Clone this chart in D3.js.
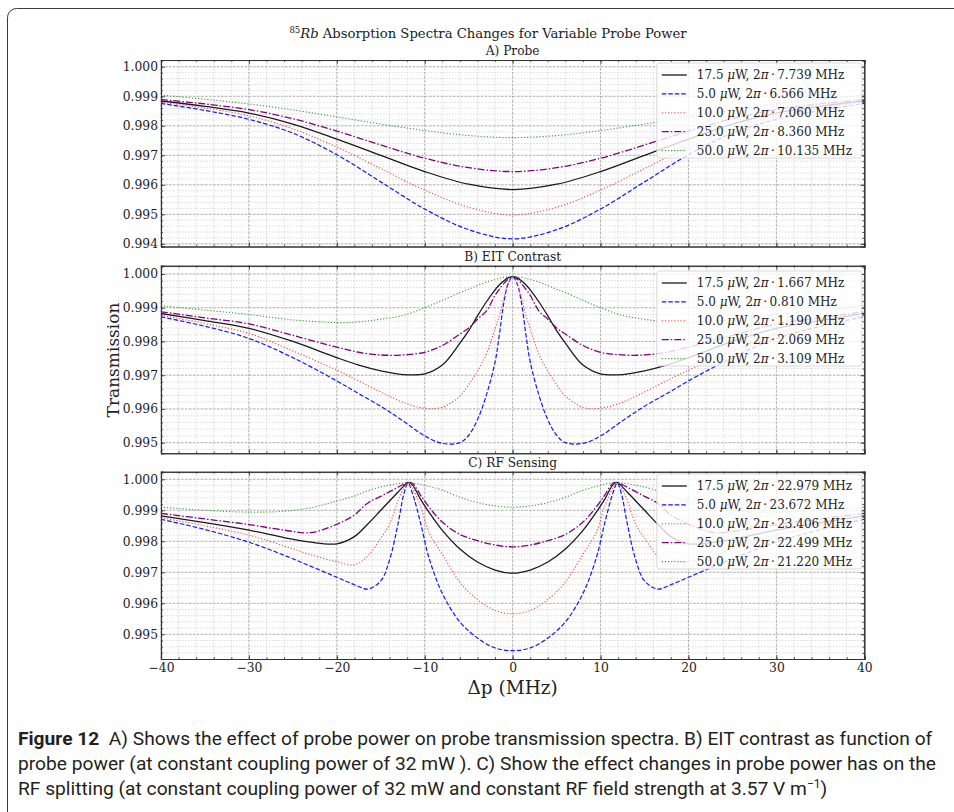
<!DOCTYPE html>
<html>
<head>
<meta charset="utf-8">
<script src="https://cdn.jsdelivr.net/npm/d3@7"></script>
<style>
  body { margin: 0; background: #fff; }
</style>
</head>
<body>
<div id="container"></div>
<script>
// ---- data ----
const powers = ["17.5", "5.0", "10.0", "25.0", "50.0"];
const widthsA = ["7.739", "6.566", "7.060", "8.360", "10.135"];
const widthsB = ["1.667", "0.810", "1.190", "2.069", "3.109"];
const widthsC = ["22.979", "23.672", "23.406", "22.499", "21.220"];

const xTicks = [-40, -30, -20, -10, 0, 10, 20, 30, 40];
const yTicksA = [0.994, 0.995, 0.996, 0.997, 0.998, 0.999, 1.000];
const yTicksB = [0.995, 0.996, 0.997, 0.998, 0.999, 1.000];
const yTicksC = [0.995, 0.996, 0.997, 0.998, 0.999, 1.000];

// A) Probe
const xA = [-40, -35, -30, -25, -20, -15, -10, -5, 0, 5, 10, 15, 20, 25, 30, 35, 40];
const blackA = [0.99884, 0.99866, 0.99843, 0.99806, 0.99755, 0.99700, 0.99645, 0.99602, 0.99584, 0.99602, 0.99645, 0.99700, 0.99755, 0.99806, 0.99843, 0.99866, 0.99884];
const blueA = [0.99876, 0.99852, 0.99822, 0.99775, 0.99702, 0.99610, 0.99518, 0.99448, 0.99417, 0.99448, 0.99518, 0.99610, 0.99702, 0.99775, 0.99822, 0.99852, 0.99876];
const redA = [0.99880, 0.99860, 0.99834, 0.99790, 0.99728, 0.99655, 0.99582, 0.99524, 0.99498, 0.99524, 0.99582, 0.99655, 0.99728, 0.99790, 0.99834, 0.99860, 0.99880];
const purpleA = [0.99889, 0.99874, 0.99855, 0.99824, 0.99782, 0.99735, 0.99690, 0.99658, 0.99645, 0.99658, 0.99690, 0.99735, 0.99782, 0.99824, 0.99855, 0.99874, 0.99889];
const greenA = [0.99904, 0.99890, 0.99874, 0.99854, 0.99830, 0.99806, 0.99784, 0.99767, 0.99760, 0.99767, 0.99784, 0.99806, 0.99830, 0.99854, 0.99874, 0.99890, 0.99904];

// B) EIT Contrast
const xB = [-40, -35, -30, -25, -20, -17.5, -15, -12.5, -10, -8, -6, -5, -4, -3, -2, -1.5, -1, -0.5, 0, 0.5, 1, 1.5, 2, 3, 4, 5, 6, 8, 10, 12.5, 15, 17.5, 20, 25, 30, 35, 40];
const blackB = [0.99883, 0.99862, 0.99839, 0.99800, 0.99752, 0.99730, 0.99713, 0.99702, 0.99704, 0.99730, 0.99795, 0.99832, 0.99876, 0.99917, 0.99953, 0.99968, 0.99980, 0.99989, 0.99992, 0.99989, 0.99980, 0.99968, 0.99953, 0.99917, 0.99876, 0.99832, 0.99795, 0.99730, 0.99704, 0.99702, 0.99713, 0.99730, 0.99752, 0.99800, 0.99839, 0.99862, 0.99883];
const blueB = [0.99873, 0.99845, 0.99809, 0.99752, 0.99683, 0.99645, 0.99608, 0.99565, 0.99520, 0.99498, 0.99500, 0.99522, 0.99568, 0.99640, 0.99739, 0.99822, 0.99915, 0.99972, 0.99992, 0.99972, 0.99915, 0.99822, 0.99739, 0.99640, 0.99568, 0.99522, 0.99500, 0.99498, 0.99520, 0.99565, 0.99608, 0.99645, 0.99683, 0.99752, 0.99809, 0.99845, 0.99873];
const redB = [0.99878, 0.99853, 0.99824, 0.99772, 0.99715, 0.99683, 0.99650, 0.99620, 0.99602, 0.99605, 0.99638, 0.99672, 0.99712, 0.99762, 0.99838, 0.99878, 0.99930, 0.99972, 0.99992, 0.99972, 0.99930, 0.99878, 0.99838, 0.99762, 0.99712, 0.99672, 0.99638, 0.99605, 0.99602, 0.99620, 0.99650, 0.99683, 0.99715, 0.99772, 0.99824, 0.99853, 0.99878];
const purpleB = [0.99888, 0.99870, 0.99852, 0.99818, 0.99783, 0.99768, 0.99760, 0.99760, 0.99768, 0.99788, 0.99822, 0.99840, 0.99866, 0.99890, 0.99937, 0.99955, 0.99972, 0.99985, 0.99992, 0.99985, 0.99972, 0.99955, 0.99937, 0.99890, 0.99866, 0.99840, 0.99822, 0.99788, 0.99768, 0.99760, 0.99760, 0.99768, 0.99783, 0.99818, 0.99852, 0.99870, 0.99888];
const greenB = [0.99906, 0.99893, 0.99880, 0.99864, 0.99856, 0.99858, 0.99866, 0.99877, 0.99900, 0.99922, 0.99945, 0.99955, 0.99966, 0.99976, 0.99984, 0.99987, 0.99990, 0.99991, 0.99992, 0.99991, 0.99990, 0.99987, 0.99984, 0.99976, 0.99966, 0.99955, 0.99945, 0.99922, 0.99900, 0.99877, 0.99866, 0.99858, 0.99856, 0.99864, 0.99880, 0.99893, 0.99906];

// C) RF Sensing
const xC = [-40, -35, -30, -26, -23, -20, -18, -16.5, -15, -14, -13, -12.4, -11.9, -11.4, -10.5, -9.5, -8, -6, -4, -2, 0, 2, 4, 6, 8, 9.5, 10.5, 11.4, 11.9, 12.4, 13, 14, 15, 16.5, 18, 20, 23, 26, 30, 35, 40];
const blackC = [0.99882, 0.99860, 0.99836, 0.99812, 0.99797, 0.99792, 0.99815, 0.99855, 0.99900, 0.99930, 0.99960, 0.99978, 0.99990, 0.99982, 0.99937, 0.99893, 0.99835, 0.99775, 0.99733, 0.99707, 0.99697, 0.99707, 0.99733, 0.99775, 0.99835, 0.99893, 0.99937, 0.99982, 0.99990, 0.99978, 0.99960, 0.99930, 0.99900, 0.99855, 0.99815, 0.99792, 0.99797, 0.99812, 0.99836, 0.99860, 0.99882];
const blueC = [0.99871, 0.99838, 0.99797, 0.99755, 0.99720, 0.99684, 0.99660, 0.99646, 0.99672, 0.99740, 0.99862, 0.99950, 0.99988, 0.99955, 0.99862, 0.99745, 0.99632, 0.99540, 0.99488, 0.99456, 0.99447, 0.99456, 0.99488, 0.99540, 0.99632, 0.99745, 0.99862, 0.99955, 0.99988, 0.99950, 0.99862, 0.99740, 0.99672, 0.99646, 0.99660, 0.99684, 0.99720, 0.99755, 0.99797, 0.99838, 0.99871];
const redC = [0.99876, 0.99850, 0.99820, 0.99785, 0.99757, 0.99734, 0.99724, 0.99752, 0.99810, 0.99855, 0.99935, 0.99970, 0.99989, 0.99972, 0.99915, 0.99828, 0.99758, 0.99668, 0.99612, 0.99577, 0.99566, 0.99577, 0.99612, 0.99668, 0.99758, 0.99828, 0.99915, 0.99972, 0.99989, 0.99970, 0.99935, 0.99855, 0.99810, 0.99752, 0.99724, 0.99734, 0.99757, 0.99785, 0.99820, 0.99850, 0.99876];
const purpleC = [0.99890, 0.99872, 0.99854, 0.99836, 0.99828, 0.99855, 0.99885, 0.99923, 0.99945, 0.99960, 0.99975, 0.99984, 0.99990, 0.99987, 0.99950, 0.99910, 0.99862, 0.99822, 0.99802, 0.99788, 0.99782, 0.99788, 0.99802, 0.99822, 0.99862, 0.99910, 0.99950, 0.99987, 0.99990, 0.99984, 0.99975, 0.99960, 0.99945, 0.99923, 0.99885, 0.99855, 0.99828, 0.99836, 0.99854, 0.99872, 0.99890];
const greenC = [0.99910, 0.99900, 0.99894, 0.99897, 0.99908, 0.99930, 0.99946, 0.99963, 0.99975, 0.99981, 0.99986, 0.99988, 0.99989, 0.99988, 0.99984, 0.99977, 0.99965, 0.99942, 0.99925, 0.99914, 0.99910, 0.99914, 0.99925, 0.99942, 0.99965, 0.99977, 0.99984, 0.99988, 0.99989, 0.99988, 0.99986, 0.99981, 0.99975, 0.99963, 0.99946, 0.99930, 0.99908, 0.99897, 0.99894, 0.99900, 0.99910];

// ---- layout ----
const width = 954, height = 812;
const axLeft = 161, axRight = 864.3;
const serif = "DejaVu Serif";
const sans = "Roboto";

const styles = [
  { color: "#1a1a1a", width: 1.3, dash: null },
  { color: "#1515ff", width: 1.2, dash: "4.5,2" },
  { color: "#f04848", width: 1.1, dash: "1.2,1.9" },
  { color: "#800080", width: 1.3, dash: "7,2,1.5,2" },
  { color: "#3a9e3a", width: 1.1, dash: "1.2,1.9" }
];

const panels = [
  { title: "A) Probe", top: 60, bottom: 246.5, domain: [0.99391, 1.00023], ticks: yTicksA,
    xs: xA, series: [blackA, blueA, redA, purpleA, greenA], widths: widthsA, legendTop: 63 },
  { title: "B) EIT Contrast", top: 265.7, bottom: 453.3, domain: [0.994685, 1.000246], ticks: yTicksB,
    xs: xB, series: [blackB, blueB, redB, purpleB, greenB], widths: widthsB, legendTop: 271 },
  { title: "C) RF Sensing", top: 471.7, bottom: 659, domain: [0.994203, 1.000245], ticks: yTicksC,
    xs: xC, series: [blackC, blueC, redC, purpleC, greenC], widths: widthsC, legendTop: 474 }
];

const svg = d3.select("#container").append("svg")
  .attr("width", width)
  .attr("height", height)
  .attr("font-family", serif);

// page frame
svg.append("rect")
  .attr("x", 7.5).attr("y", 8.5)
  .attr("width", 1000).attr("height", 900)
  .attr("rx", 9)
  .attr("fill", "none")
  .attr("stroke", "#3a3a3a")
  .attr("stroke-width", 1);

const x = d3.scaleLinear().domain([-40, 40]).range([axLeft, axRight]);
const xMinor = d3.range(-40, 40.001, 2);
const fmtX = d => d < 0 ? "\u2212" + Math.abs(d) : String(d);

// suptitle
const title = svg.append("text")
  .attr("x", 488).attr("y", 38)
  .attr("text-anchor", "middle")
  .attr("font-size", 13.2)
  .attr("fill", "#222");
title.append("tspan").attr("font-size", 8.5).attr("dy", -5).text("85");
title.append("tspan").attr("font-style", "italic").attr("dy", 5).text("Rb");
title.append("tspan").text(" Absorption Spectra Changes for Variable Probe Power");

panels.forEach((p, pi) => {
  const y = d3.scaleLinear().domain(p.domain).range([p.bottom, p.top]);
  const g = svg.append("g");
  const lo = p.ticks[0] - 0.001, hi = p.ticks[p.ticks.length - 1] + 0.001;
  const yMinor = d3.range(Math.round(lo * 5000), Math.round(hi * 5000) + 1)
    .map(k => k / 5000)
    .filter(v => v >= p.domain[0] && v <= p.domain[1]);

  // minor grid
  g.selectAll(".vminor").data(xMinor).join("line")
    .attr("x1", d => x(d)).attr("x2", d => x(d))
    .attr("y1", p.top).attr("y2", p.bottom)
    .attr("stroke", "#c4c4c4").attr("stroke-width", 0.6)
    .attr("stroke-dasharray", "1.5,1.5");
  g.selectAll(".hminor").data(yMinor).join("line")
    .attr("x1", axLeft).attr("x2", axRight)
    .attr("y1", d => y(d)).attr("y2", d => y(d))
    .attr("stroke", "#c4c4c4").attr("stroke-width", 0.6)
    .attr("stroke-dasharray", "1.5,1.5");
  // major grid
  g.selectAll(".vmajor").data(xTicks).join("line")
    .attr("x1", d => x(d)).attr("x2", d => x(d))
    .attr("y1", p.top).attr("y2", p.bottom)
    .attr("stroke", "#a0a0a0").attr("stroke-width", 0.75)
    .attr("stroke-dasharray", "2.5,1.5");
  g.selectAll(".hmajor").data(p.ticks).join("line")
    .attr("x1", axLeft).attr("x2", axRight)
    .attr("y1", d => y(d)).attr("y2", d => y(d))
    .attr("stroke", "#a0a0a0").attr("stroke-width", 0.75)
    .attr("stroke-dasharray", "2.5,1.5");

  // curves
  const clipId = "clip" + pi;
  svg.append("clipPath").attr("id", clipId)
    .append("rect")
    .attr("x", axLeft).attr("y", p.top)
    .attr("width", axRight - axLeft).attr("height", p.bottom - p.top);
  const line = d3.line()
    .x((d, i) => x(p.xs[i]))
    .y(d => y(d))
    .curve(d3.curveCatmullRom.alpha(0.5));
  g.append("g").attr("clip-path", `url(#${clipId})`)
    .selectAll("path").data(p.series).join("path")
    .attr("d", d => line(d))
    .attr("fill", "none")
    .attr("stroke", (d, i) => styles[i].color)
    .attr("stroke-width", (d, i) => styles[i].width)
    .attr("stroke-dasharray", (d, i) => styles[i].dash);

  // axes with inward ticks on all sides
  const axB = d3.axisBottom(x).tickValues(xTicks).tickSize(-4).tickPadding(4).tickFormat(pi === 2 ? fmtX : "");
  const axT = d3.axisTop(x).tickValues(xTicks).tickSize(-4).tickFormat("");
  const axL = d3.axisLeft(y).tickValues(p.ticks).tickSize(-4).tickPadding(3).tickFormat(d3.format(".3f"));
  const axR = d3.axisRight(y).tickValues(p.ticks).tickSize(-4).tickFormat("");
  const mB = d3.axisBottom(x).tickValues(xMinor).tickSize(-2).tickFormat("");
  const mT = d3.axisTop(x).tickValues(xMinor).tickSize(-2).tickFormat("");
  const mL = d3.axisLeft(y).tickValues(yMinor).tickSize(-2).tickFormat("");
  const mR = d3.axisRight(y).tickValues(yMinor).tickSize(-2).tickFormat("");

  const axes = [
    [axB, `translate(0,${p.bottom})`], [mB, `translate(0,${p.bottom})`],
    [axT, `translate(0,${p.top})`], [mT, `translate(0,${p.top})`],
    [axL, `translate(${axLeft},0)`], [mL, `translate(${axLeft},0)`],
    [axR, `translate(${axRight},0)`], [mR, `translate(${axRight},0)`]
  ];
  axes.forEach(([ax, tr]) => {
    const a = g.append("g").attr("transform", tr).call(ax)
      .attr("font-family", serif)
      .attr("font-size", 12.3);
    a.select(".domain").attr("stroke", "#333").attr("stroke-width", 1.1);
    a.selectAll(".tick line").attr("stroke", "#333").attr("stroke-width", 0.8);
    a.selectAll("text").attr("fill", "#1e1e1e");
  });

  // panel title
  svg.append("text")
    .attr("x", (axLeft + axRight) / 2)
    .attr("y", p.top - 5)
    .attr("text-anchor", "middle")
    .attr("font-size", 12.2)
    .attr("fill", "#222")
    .text(p.title);

  // legend
  const lgW = 205, lgH = 95, rowH = 18.9;
  const lg = svg.append("g").attr("transform", `translate(${axRight - 2.5 - lgW},${p.legendTop})`);
  lg.append("rect")
    .attr("width", lgW).attr("height", lgH)
    .attr("rx", 3)
    .attr("fill", "#fff").attr("fill-opacity", 0.8)
    .attr("stroke", "#d0d0d0").attr("stroke-width", 0.8);
  powers.forEach((pw, i) => {
    const ry = 12 + i * rowH;
    lg.append("line")
      .attr("x1", 5).attr("x2", 30)
      .attr("y1", ry).attr("y2", ry)
      .attr("stroke", styles[i].color)
      .attr("stroke-width", styles[i].width)
      .attr("stroke-dasharray", styles[i].dash);
    const t = lg.append("text")
      .attr("x", 40).attr("y", ry + 4.3)
      .attr("font-size", 12)
      .attr("fill", "#222");
    t.append("tspan").text(pw + " ");
    t.append("tspan").attr("font-style", "italic").text("\u03bc");
    t.append("tspan").text("W, 2");
    t.append("tspan").attr("font-style", "italic").text("\u03c0");
    t.append("tspan").text("\u2009\u00b7\u2009" + p.widths[i] + " MHz");
  });
});

// axis labels
svg.append("text")
  .attr("transform", "translate(119,360) rotate(-90)")
  .attr("text-anchor", "middle")
  .attr("font-size", 17)
  .attr("fill", "#222")
  .text("Transmission");
svg.append("text")
  .attr("x", (axLeft + axRight) / 2).attr("y", 694)
  .attr("text-anchor", "middle")
  .attr("font-size", 18.5)
  .attr("fill", "#222")
  .text("\u0394p (MHz)");

// caption
const cap = svg.append("g")
  .attr("font-family", sans)
  .attr("font-size", 19.2)
  .attr("fill", "#231f20");
const c1 = cap.append("text").attr("x", 18).attr("y", 745);
c1.append("tspan").attr("font-weight", "bold").text("Figure 12");
c1.append("tspan").text("\u00a0\u00a0A) Shows the effect of probe power on probe transmission spectra. B) EIT contrast as function of");
cap.append("text").attr("x", 18).attr("y", 770)
  .text("probe power (at constant coupling power of 32 mW ). C) Show the effect changes in probe power has on the");
const c3 = cap.append("text").attr("x", 18).attr("y", 795);
c3.append("tspan").text("RF splitting (at constant coupling power of 32 mW and constant RF field strength at 3.57 V m");
c3.append("tspan").attr("font-size", 12).attr("dy", -7).text("\u22121");
c3.append("tspan").attr("dy", 7).text(")");
</script>
</body>
</html>
